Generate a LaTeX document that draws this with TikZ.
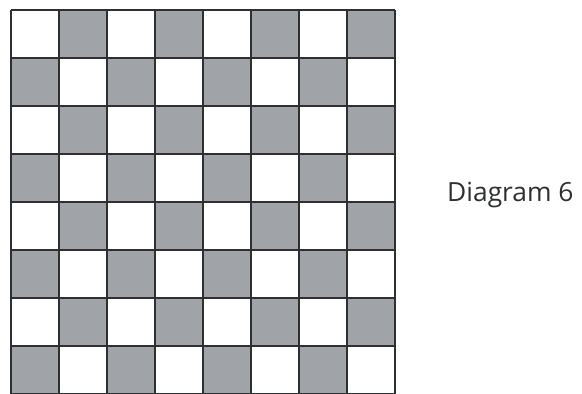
\documentclass[tikz,border=0pt]{standalone}
\usepackage{fontspec}
\setmainfont{Open Sans}
\usepackage{xcolor}
\usepackage{tikz}
\definecolor{cellgray}{RGB}{160,163,168}
\definecolor{gridline}{RGB}{45,48,50}
\tikzset{
  darkcell/.style={fill=cellgray},
  boardline/.style={gridline, line width=0.4mm},
  caption/.style={font=\fontsize{22.5}{26}\selectfont, text=gridline, inner sep=0pt}
}
\begin{document}
\begin{tikzpicture}[x=0.03cm, y=-0.03cm]
  \useasboundingbox (0,0) rectangle (582,394);
  %% shaded squares
  \foreach \i in {0,...,7}{
    \foreach \j in {0,...,7}{
      \pgfmathtruncatemacro\odd{mod(\i+\j,2)}
      \ifnum\odd=1
        \fill[darkcell] ({11+48*\i},{10+48*\j}) rectangle ++(48,48);
      \fi
    }
  }
  %% grid lines
  \foreach \k in {0,...,8}{
    \draw[boardline] ({11+48*\k},10) -- ({11+48*\k},394);
    \draw[boardline] (11,{10+48*\k}) -- (395,{10+48*\k});
  }
  %% label
  \node[caption, anchor=base west] (lbl) at (447,201) {Diagram 6};
\end{tikzpicture}
\end{document}
